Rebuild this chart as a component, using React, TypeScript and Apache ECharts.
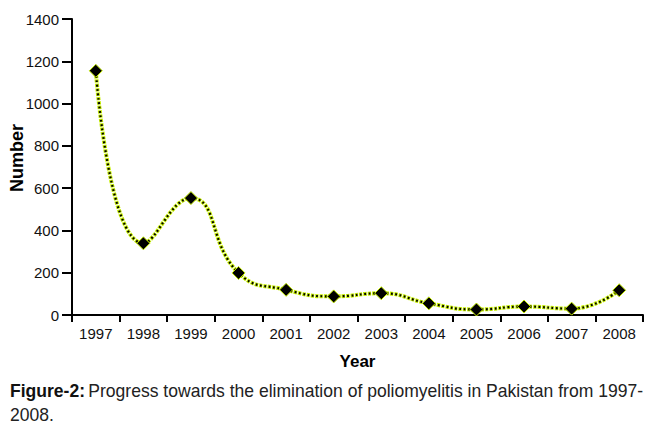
import React, { useEffect, useRef } from "react";
import * as echarts from "echarts";

const years = ["1997", "1998", "1999", "2000", "2001", "2002", "2003", "2004", "2005", "2006", "2007", "2008"];
const cases = [1155, 339, 553, 199, 119, 88, 103, 55, 26, 40, 30, 117];
const yTicks = [0, 200, 400, 600, 800, 1000, 1200, 1400];
const xTitle = "Year";
const yTitle = "Number";
const captionBold = "Figure-2:";
const captionLine1 = "Progress towards the elimination of poliomyelitis in Pakistan from 1997-";
const captionLine2 = "2008.";

const FONT = "'Liberation Sans', Arial, sans-serif";

export default function App() {
  const ref = useRef<HTMLDivElement>(null);
  useEffect(() => {
    if (!ref.current) return;
    const chart = echarts.init(ref.current, null, { renderer: "svg" });
    chart.setOption({
      animation: false,
      backgroundColor: "#ffffff",
      grid: { left: 72, right: 7, top: 19, bottom: 121, containLabel: false },
      xAxis: {
        type: "category",
        data: years,
        boundaryGap: true,
        name: xTitle,
        nameLocation: "middle",
        nameGap: 38,
        nameTextStyle: { fontFamily: FONT, fontSize: 17, fontWeight: "bold", color: "#000" },
        axisLine: { lineStyle: { color: "#000", width: 2 } },
        axisTick: { show: true, length: 7, lineStyle: { color: "#000", width: 2 } },
        axisLabel: { fontFamily: FONT, fontSize: 15, color: "#111", margin: 11, interval: 0 },
        splitLine: { show: false },
      },
      yAxis: {
        type: "value",
        min: yTicks[0],
        max: yTicks[yTicks.length - 1],
        interval: 200,
        axisLine: { show: true, lineStyle: { color: "#000", width: 2 } },
        axisTick: { show: true, length: 10, lineStyle: { color: "#000", width: 2 } },
        axisLabel: {
          fontFamily: FONT,
          fontSize: 15,
          color: "#111",
          margin: 13,
          formatter: (v: number) => String(v),
        },
        splitLine: { show: false },
      },
      series: [
        {
          type: "line",
          data: cases,
          smooth: 0.5,
          symbol: "none",
          lineStyle: { color: "#c6ee00", width: 4, type: [3.4, 1.0], dashOffset: 0, cap: "butt" },
          z: 1,
        },
        {
          type: "line",
          data: cases,
          smooth: 0.5,
          symbol: "diamond",
          symbolSize: 13,
          itemStyle: { color: "#000", borderColor: "#c6ee00", borderWidth: 1 },
          lineStyle: { color: "#000", width: 2.2, type: [1.8, 2.6], dashOffset: -0.8, cap: "butt" },
          z: 2,
        },
      ],
      graphic: [
        {
          type: "text",
          x: 17,
          y: 158,
          rotation: Math.PI / 2,
          style: {
            text: yTitle,
            fontFamily: FONT,
            fontSize: 18,
            fontWeight: "bold",
            fill: "#000",
            align: "center",
            verticalAlign: "middle",
          },
        },
        {
          type: "text",
          x: 10,
          y: 382,
          scaleX: 0.975,
          style: {
            text: `{b|${captionBold}} {n|${captionLine1}}`,
            rich: {
              b: { fontFamily: FONT, fontSize: 18, fontWeight: "bold", fill: "#111" },
              n: { fontFamily: FONT, fontSize: 18, fill: "#222" },
            },
          },
        },
        {
          type: "text",
          x: 10,
          y: 406,
          scaleX: 0.975,
          style: { text: captionLine2, fontFamily: FONT, fontSize: 18, fill: "#222" },
        },
      ],
    });
    return () => chart.dispose();
  }, []);
  return (
    <div
      ref={ref}
      style={{ position: "fixed", left: 0, top: 0, width: 650, height: 436 }}
    />
  );
}
